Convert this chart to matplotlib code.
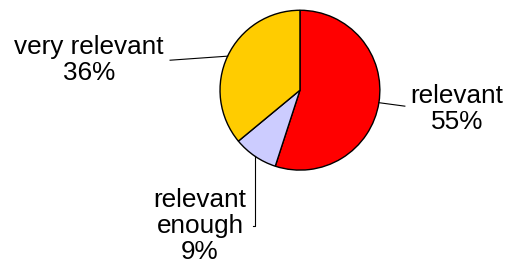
import numpy as np
import matplotlib.pyplot as plt

labels = ["relevant", "relevant\nenough", "very relevant"]
shares = [55, 9, 36]
colors = ["#FF0000", "#CCCCFF", "#FFCC00"]

W, H = 507, 269
fig = plt.figure(figsize=(W / 100, H / 100), dpi=100)
ax = fig.add_axes([0, 0, 1, 0.999])

cx, cy, r = 300, H - 90, 80
wedges, _ = ax.pie(shares, colors=colors, startangle=90, counterclock=False,
                   center=(cx, cy), radius=r, frame=True,
                   wedgeprops=dict(edgecolor="black", linewidth=1))
ax.set_xlim(0, W)
ax.set_ylim(0, H)
ax.set_aspect("equal")
ax.axis("off")

# label anchor points (leader line end, text centre) in pixels from top-left
ends = [(405, 106), (253, 226), (170, 60)]
texts = [(457, 109), (200, 226), (89, 60)]

font = dict(family=["Liberation Sans", "DejaVu Sans"], fontsize=18.8)
for w, lab, s, (ex, ey), (tx, ty) in zip(wedges, labels, shares, ends, texts):
    mid = np.deg2rad((w.theta1 + w.theta2) / 2)
    sx, sy = cx + r * np.cos(mid), cy + r * np.sin(mid)
    if "enough" in lab:
        ax.plot([sx, sx, ex], [sy, H - ey, H - ey], color="black", lw=0.8)
    else:
        ax.plot([sx, ex], [sy, H - ey], color="black", lw=0.8)
    ax.text(tx, H - ty, f"{lab}\n{s}%", ha="center", va="center",
            linespacing=1.12, **font)

fig.savefig("out.png", dpi=100)
